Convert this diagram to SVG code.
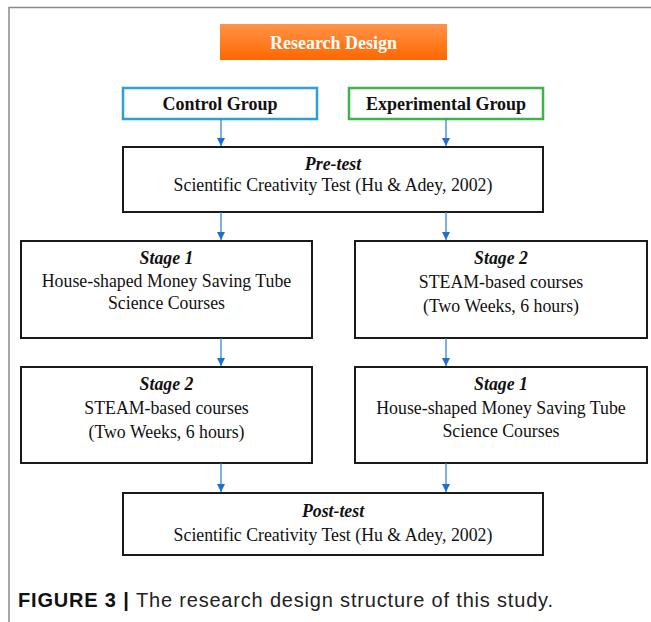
<svg xmlns="http://www.w3.org/2000/svg" width="651" height="622" viewBox="0 0 651 622">
<defs>
<linearGradient id="og" x1="0" y1="0" x2="0" y2="1">
<stop offset="0" stop-color="#ff9448"/>
<stop offset="1" stop-color="#ff6600"/>
</linearGradient>
<marker id="ah" viewBox="0 0 10 10" refX="10" refY="5" markerWidth="8" markerHeight="8" markerUnits="userSpaceOnUse" orient="auto">
<path d="M0,0 L10,5 L0,10 Z" fill="#1f6fd1"/>
</marker>
<style>
.box{fill:#fff;stroke:#1a1a1a;stroke-width:2}
.t{font-family:"Liberation Serif","Times New Roman",serif;font-size:17.8px;fill:#111;text-anchor:middle}
.h{font-weight:bold;font-style:italic}
.g{font-family:"Liberation Serif","Times New Roman",serif;font-size:18px;font-weight:bold;fill:#111;text-anchor:middle}
.c{stroke:#2a7ad8;stroke-width:1.2;fill:none;marker-end:url(#ah)}
.cap{font-family:"Liberation Sans",Arial,sans-serif;font-size:20px;fill:#222}
</style>
</defs>
<rect width="651" height="622" fill="#fff"/>
<path d="M9,622 V7.5 H651" fill="none" stroke="#8a8a8a" stroke-width="1.5"/>
<g id="research-design">
<rect x="220" y="24" width="227" height="36" fill="url(#og)"/>
<text x="333.5" y="48.5" class="g" style="fill:#fff;font-size:18px">Research Design</text>
</g>
<g id="control-group">
<rect x="123" y="88" width="194" height="31" fill="#fff" stroke="#2e9fdc" stroke-width="2.5"/>
<text x="220" y="110" class="g">Control Group</text>
</g>
<g id="experimental-group">
<rect x="349" y="88" width="194" height="31" fill="#fff" stroke="#3cb44a" stroke-width="2.5"/>
<text x="446" y="110" class="g">Experimental Group</text>
</g>
<g id="pre-test">
<rect x="123" y="147" width="420" height="65" class="box"/>
<text x="333" y="170" class="t h">Pre-test</text>
<text x="333" y="191" class="t">Scientific Creativity Test (Hu &amp; Adey, 2002)</text>
</g>
<g id="control-stage1">
<rect x="21" y="241" width="291" height="97" class="box"/>
<text x="166.5" y="264" class="t h">Stage 1</text>
<text x="166.5" y="287" class="t">House-shaped Money Saving Tube</text>
<text x="166.5" y="309" class="t">Science Courses</text>
</g>
<g id="exp-stage2">
<rect x="355" y="241" width="292" height="97" class="box"/>
<text x="501" y="264" class="t h">Stage 2</text>
<text x="501" y="288" class="t">STEAM-based courses</text>
<text x="501" y="312" class="t">(Two Weeks, 6 hours)</text>
</g>
<g id="control-stage2">
<rect x="21" y="367" width="291" height="96" class="box"/>
<text x="166.5" y="390" class="t h">Stage 2</text>
<text x="166.5" y="414" class="t">STEAM-based courses</text>
<text x="166.5" y="438" class="t">(Two Weeks, 6 hours)</text>
</g>
<g id="exp-stage1">
<rect x="355" y="367" width="292" height="96" class="box"/>
<text x="501" y="390" class="t h">Stage 1</text>
<text x="501" y="414" class="t">House-shaped Money Saving Tube</text>
<text x="501" y="437" class="t">Science Courses</text>
</g>
<g id="post-test">
<rect x="123" y="493" width="420" height="62" class="box"/>
<text x="333" y="517" class="t h">Post-test</text>
<text x="333" y="541" class="t">Scientific Creativity Test (Hu &amp; Adey, 2002)</text>
</g>
<g id="connectors">
<line x1="221" y1="119" x2="221" y2="146" class="c"/>
<line x1="446" y1="119" x2="446" y2="146" class="c"/>
<line x1="221" y1="212" x2="221" y2="240" class="c"/>
<line x1="446" y1="212" x2="446" y2="240" class="c"/>
<line x1="221" y1="338" x2="221" y2="366" class="c"/>
<line x1="446" y1="338" x2="446" y2="366" class="c"/>
<line x1="221" y1="463" x2="221" y2="492" class="c"/>
<line x1="446" y1="463" x2="446" y2="492" class="c"/>
</g>
<text x="18" y="607" class="cap" textLength="535" lengthAdjust="spacing"><tspan font-weight="bold" fill="#111">FIGURE 3 | </tspan>The research design structure of this study.</text>
</svg>
